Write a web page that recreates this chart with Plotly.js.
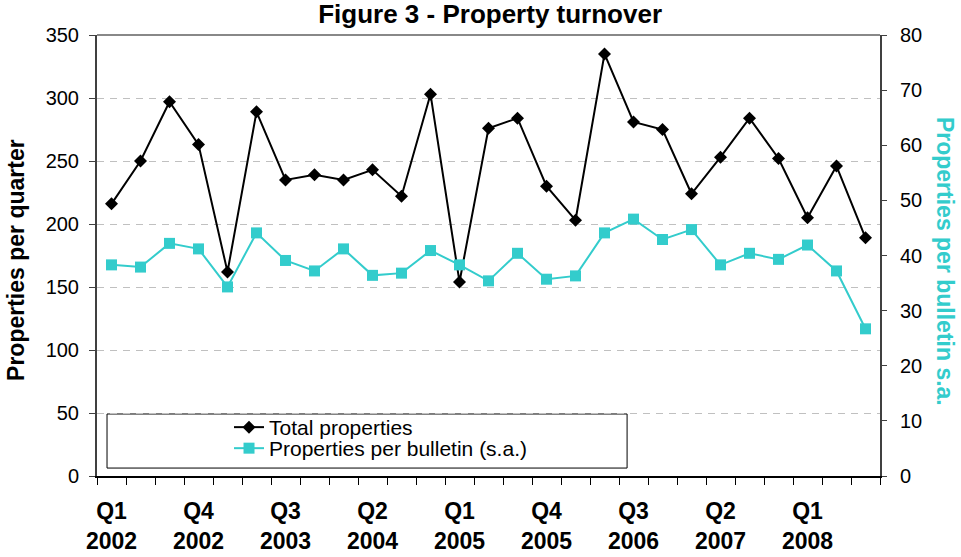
<!DOCTYPE html>
<html>
<head>
<meta charset="utf-8">
<script src="https://cdn.plot.ly/plotly-3.0.1.min.js"></script>
<style>
html,body{margin:0;padding:0;background:#fff;}
#chart{width:961px;height:557px;}
</style>
</head>
<body>
<div id="chart"></div>
<script>
// Quarters Q1 2002 .. Q3 2008
const quarters = ["Q1 2002","Q2 2002","Q3 2002","Q4 2002","Q1 2003","Q2 2003","Q3 2003","Q4 2003",
  "Q1 2004","Q2 2004","Q3 2004","Q4 2004","Q1 2005","Q2 2005","Q3 2005","Q4 2005",
  "Q1 2006","Q2 2006","Q3 2006","Q4 2006","Q1 2007","Q2 2007","Q3 2007","Q4 2007",
  "Q1 2008","Q2 2008","Q3 2008"];
const totalProperties = [216,250,297,263,162,289,235,239,235,243,222,303,154,276,284,230,203,335,281,275,224,253,284,252,205,246,189];
const perBulletin = [38.3,37.9,42.2,41.2,34.3,44.1,39.1,37.2,41.2,36.4,36.8,40.9,38.3,35.4,40.4,35.7,36.3,44.1,46.6,42.9,44.7,38.3,40.4,39.3,41.9,37.2,26.7];
const tickIndex = [0,3,6,9,12,15,18,21,24];
const tickLabels = ["Q1<br>2002","Q4<br>2002","Q3<br>2003","Q2<br>2004","Q1<br>2005","Q4<br>2005","Q3<br>2006","Q2<br>2007","Q1<br>2008"];

const xIdx = quarters.map((q,i)=>i);
const FONT = "Liberation Sans, Arial, sans-serif";
const CYAN = "#33CCCC";

const traces = [
  {x:xIdx, y:totalProperties, name:"Total properties", type:"scatter", mode:"lines+markers",
   line:{color:"#000", width:2}, marker:{symbol:"diamond", size:10, color:"#000"},
   xaxis:"x", yaxis:"y", legend:"legend", text:quarters, hoverinfo:"text+y"},
  {x:xIdx, y:perBulletin, name:"Properties per bulletin (s.a.)", type:"scatter", mode:"lines+markers",
   line:{color:CYAN, width:2}, marker:{symbol:"square", size:11, color:CYAN},
   xaxis:"x", yaxis:"y2", legend:"legend2", text:quarters, hoverinfo:"text+y"}
];

const legendBase = {xanchor:"left", yanchor:"top", bgcolor:"rgba(0,0,0,0)", borderwidth:0,
  font:{family:FONT, size:21, color:"#000"}, itemwidth:30};

const layout = {
  width:961, height:557,
  margin:{l:97, r:81, t:35, b:81},
  paper_bgcolor:"#fff", plot_bgcolor:"#fff",
  font:{family:FONT, color:"#000"},
  title:{text:"<b>Figure 3 - Property turnover</b>", font:{family:FONT, size:26, color:"#000"},
         x:0.51, xref:"container", xanchor:"center", y:0.975, yref:"container", yanchor:"middle"},
  xaxis:{range:[-0.5,26.5], tickmode:"array", tickvals:tickIndex, ticktext:tickLabels,
         ticks:"", showgrid:false, zeroline:false, showline:true, linecolor:"#000", linewidth:1.5,
         tickfont:{family:FONT, size:23, color:"#000", weight:"bold"}, ticklabelstandoff:14,
         minor:{tickmode:"linear", tick0:-0.5, dtick:1, ticks:"outside", ticklen:7, tickcolor:"#000", tickwidth:1, showgrid:false}},
  yaxis:{range:[0,350], dtick:50, tick0:0, ticks:"outside", ticklen:6, tickcolor:"#404040",
         showline:true, linecolor:"#404040", linewidth:2, zeroline:false,
         showgrid:true, gridcolor:"#c0c0c0", gridwidth:1, griddash:"7px,6px",
         tickfont:{family:FONT, size:20, color:"#000"}, ticklabelstandoff:6},
  yaxis2:{range:[0,80], dtick:10, tick0:0, overlaying:"y", side:"right", ticks:"outside", ticklen:5,
          tickcolor:"#404040", showline:true, linecolor:"#404040", linewidth:2, showgrid:false, zeroline:false,
          tickfont:{family:FONT, size:20, color:"#000"}, ticklabelstandoff:9},
  showlegend:true,
  legend:Object.assign({}, legendBase, {x:0.1686, y:0.1565}),
  legend2:Object.assign({}, legendBase, {x:0.1686, y:0.1088}),
  shapes:[
    {type:"line", xref:"paper", yref:"paper", x0:0, x1:1, y0:1, y1:1, line:{color:"#888", width:2}},
    {type:"rect", xref:"paper", yref:"paper", x0:0.0128, x1:0.677, y0:0.018, y1:0.1406,
     line:{color:"#000", width:1}, fillcolor:"#fff", layer:"below"}
  ],
  annotations:[
    {text:"<b>Properties per quarter</b>", xref:"paper", yref:"paper", x:-0.1034, y:0.49,
     xanchor:"center", yanchor:"middle", textangle:-90, showarrow:false,
     font:{family:FONT, size:23, color:"#000"}},
    {text:"<b>Properties per bulletin s.a.</b>", xref:"paper", yref:"paper", x:1.084, y:0.486,
     xanchor:"center", yanchor:"middle", textangle:90, showarrow:false,
     font:{family:FONT, size:23, color:CYAN}}
  ]
};

Plotly.newPlot("chart", traces, layout, {displayModeBar:false, staticPlot:true});
</script>
</body>
</html>
